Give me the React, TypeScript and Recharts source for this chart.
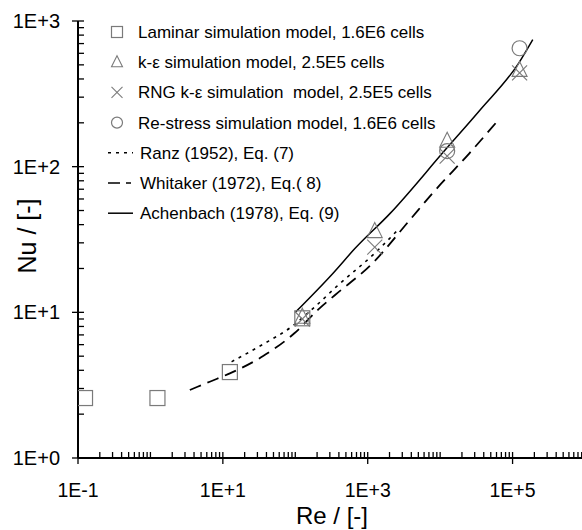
import React from 'react';
import { ComposedChart, Line, Scatter, XAxis, YAxis } from 'recharts';

const FONT = '"Liberation Sans", Arial, Helvetica, sans-serif';
const MARK = '#7a7a7a';

// Series (Re, Nu)
const laminar = [
  { x: 0.125, y: 2.58 },
  { x: 1.25, y: 2.58 },
  { x: 12.5, y: 3.89 },
  { x: 125, y: 9.1 },
];
const kEps = [
  { x: 125, y: 9.3 },
  { x: 1250, y: 36 },
  { x: 12500, y: 150 },
  { x: 125000, y: 460 },
];
const rngKEps = [
  { x: 125, y: 9.0 },
  { x: 1250, y: 28 },
  { x: 12500, y: 118 },
  { x: 125000, y: 440 },
];
const reStress = [
  { x: 12500, y: 128 },
  { x: 125000, y: 650 },
];
const ranz = [
  { x: 13.2, y: 4.58 },
  { x: 34.5, y: 5.97 },
  { x: 88.7, y: 7.96 },
  { x: 186, y: 10.9 },
  { x: 370, y: 15.0 },
  { x: 1318, y: 26.1 },
  { x: 2760, y: 37.9 },
];
const whitaker = [
  { x: 3.5, y: 2.93 },
  { x: 6.6, y: 3.34 },
  { x: 12.5, y: 3.81 },
  { x: 36, y: 5.01 },
  { x: 98, y: 7.21 },
  { x: 218, y: 10.7 },
  { x: 351, y: 13.1 },
  { x: 1172, y: 21.8 },
  { x: 3800, y: 43 },
  { x: 7890, y: 65.9 },
  { x: 25500, y: 124 },
  { x: 60000, y: 202 },
];
const achenbach = [
  { x: 100, y: 10.0 },
  { x: 330, y: 18.5 },
  { x: 670, y: 27.5 },
  { x: 2040, y: 47.8 },
  { x: 11700, y: 130 },
  { x: 35600, y: 245 },
  { x: 121000, y: 512 },
  { x: 190000, y: 745 },
];

const xMajorValues = [0.1, 10, 1000, 100000];
const xMajorLabels = ['1E-1', '1E+1', '1E+3', '1E+5'];
const yMajorValues = [1, 10, 100, 1000];
const yMajorLabels = ['1E+0', '1E+1', '1E+2', '1E+3'];

const legendItems = [
  { kind: 'square', label: 'Laminar simulation model, 1.6E6 cells' },
  { kind: 'triangle', label: 'k-ε simulation model, 2.5E5 cells' },
  { kind: 'cross', label: 'RNG k-ε simulation  model, 2.5E5 cells' },
  { kind: 'circle', label: 'Re-stress simulation model, 1.6E6 cells' },
  { kind: 'dotted', label: 'Ranz (1952), Eq. (7)' },
  { kind: 'dashed', label: 'Whitaker (1972), Eq.( 8)' },
  { kind: 'solid', label: 'Achenbach (1978), Eq. (9)' },
];

function logTicks(from: number, to: number) {
  const out: number[] = [];
  for (let d = from; d < to; d++) {
    for (let m = 1; m <= 9; m++) out.push(m * Math.pow(10, d));
  }
  out.push(Math.pow(10, to));
  return out;
}
const xTicks = logTicks(-1, 6);
const yTicks = logTicks(0, 3);

function majorIndex(v: number, majors: number[]) {
  return majors.findIndex((m) => Math.abs(Math.log10(v) - Math.log10(m)) < 1e-6);
}

const XTick = (props: any) => {
  const { x, y, payload } = props;
  const idx = majorIndex(payload.value, xMajorValues);
  const major = idx >= 0;
  return (
    <g>
      <line x1={x} x2={x} y1={y - 6} y2={major ? y + 6 : y} stroke="#000" strokeWidth={1.3} />
      {major && (
        <text x={x} y={y + 39} textAnchor="middle" fontSize={19.5} fontFamily={FONT} fill="#000">
          {xMajorLabels[idx]}
        </text>
      )}
    </g>
  );
};

const YTick = (props: any) => {
  const { x, y, payload } = props;
  const idx = majorIndex(payload.value, yMajorValues);
  const major = idx >= 0;
  return (
    <g>
      <line x1={major ? x - 6 : x} x2={x + 6} y1={y} y2={y} stroke="#000" strokeWidth={1.3} />
      {major && (
        <text x={x - 18} y={y + 7} textAnchor="end" fontSize={20} fontFamily={FONT} fill="#000">
          {yMajorLabels[idx]}
        </text>
      )}
    </g>
  );
};

const Marker = ({ kind, cx, cy, s }: { kind: string; cx: number; cy: number; s: number }) => {
  const h = s / 2;
  if (kind === 'square')
    return <rect x={cx - h} y={cy - h} width={s} height={s} fill="none" stroke={MARK} strokeWidth={1.2} />;
  if (kind === 'triangle') {
    const top = cy - s * 0.58;
    const bot = cy + s * 0.42;
    return (
      <polygon
        points={`${cx},${top} ${cx - h},${bot} ${cx + h},${bot}`}
        fill="none"
        stroke={MARK}
        strokeWidth={1.1}
      />
    );
  }
  if (kind === 'cross')
    return (
      <g stroke={MARK} strokeWidth={1.1}>
        <line x1={cx - h} y1={cy - h} x2={cx + h} y2={cy + h} />
        <line x1={cx - h} y1={cy + h} x2={cx + h} y2={cy - h} />
      </g>
    );
  return <circle cx={cx} cy={cy} r={h} fill="none" stroke={MARK} strokeWidth={1.2} />;
};

const shapeFor = (kind: string) => (p: any) => <Marker kind={kind} cx={p.cx} cy={p.cy} s={15} />;

const LegendOverlay = () => {
  const rowY0 = 32;
  const dy = 30.2;
  return (
    <g>
      {legendItems.map((it, i) => {
        const cy = rowY0 + i * dy;
        const isLine = it.kind === 'dotted' || it.kind === 'dashed' || it.kind === 'solid';
        return (
          <g key={it.label}>
            {isLine ? (
              <line
                x1={108}
                x2={133}
                y1={cy}
                y2={cy}
                stroke="#000"
                strokeWidth={1.5}
                strokeDasharray={it.kind === 'dotted' ? '3 5' : it.kind === 'dashed' ? '12 6 5 2' : undefined}
              />
            ) : (
              <Marker kind={it.kind} cx={117} cy={cy} s={11} />
            )}
            <text
              x={isLine ? 140 : 138}
              y={cy + 6}
              fontSize={17}
              fontFamily={FONT}
              fill="#000"
              style={{ whiteSpace: 'pre' }}
            >
              {it.label}
            </text>
          </g>
        );
      })}
    </g>
  );
};

export default function App() {
  return (
    <div style={{ position: 'absolute', left: 0, top: 0, width: 582, height: 530, overflow: 'hidden', background: '#fff' }}>
      <ComposedChart width={585} height={530} margin={{ top: 21, right: 0, bottom: 0, left: 0 }}>
        <XAxis
          type="number"
          dataKey="x"
          scale="log"
          domain={[0.1, 1000000]}
          allowDataOverflow
          ticks={xTicks}
          interval={0}
          tickSize={0}
          tickMargin={0}
          tickLine={false}
          tick={<XTick />}
          axisLine={{ stroke: '#000', strokeWidth: 2 }}
          height={72}
        />
        <YAxis
          type="number"
          dataKey="y"
          scale="log"
          domain={[1, 1000]}
          allowDataOverflow
          ticks={yTicks}
          interval={0}
          tickSize={0}
          tickMargin={0}
          tickLine={false}
          tick={<YTick />}
          axisLine={{ stroke: '#000', strokeWidth: 2 }}
          width={78}
        />
        <Line data={ranz} dataKey="y" type="monotone" stroke="#000" strokeWidth={1.6} strokeDasharray="3 5" dot={false} isAnimationActive={false} />
        <Line data={whitaker} dataKey="y" type="monotone" stroke="#000" strokeWidth={1.8} strokeDasharray="12 7" dot={false} isAnimationActive={false} />
        <Line data={achenbach} dataKey="y" type="monotone" stroke="#000" strokeWidth={1.5} dot={false} isAnimationActive={false} />
        <Scatter data={laminar} dataKey="y" shape={shapeFor('square')} isAnimationActive={false} />
        <Scatter data={kEps} dataKey="y" shape={shapeFor('triangle')} isAnimationActive={false} />
        <Scatter data={rngKEps} dataKey="y" shape={shapeFor('cross')} isAnimationActive={false} />
        <Scatter data={reStress} dataKey="y" shape={shapeFor('circle')} isAnimationActive={false} />
      </ComposedChart>
      <svg width={582} height={530} style={{ position: 'absolute', left: 0, top: 0, pointerEvents: 'none' }}>
        <LegendOverlay />
        <text x={332} y={524} textAnchor="middle" fontSize={24} fontFamily={FONT} fill="#000">
          Re / [-]
        </text>
        <text
          x={0}
          y={0}
          transform="translate(36,236) rotate(-90)"
          textAnchor="middle"
          fontSize={25}
          fontFamily={FONT}
          fill="#000"
        >
          Nu / [-]
        </text>
      </svg>
    </div>
  );
}
